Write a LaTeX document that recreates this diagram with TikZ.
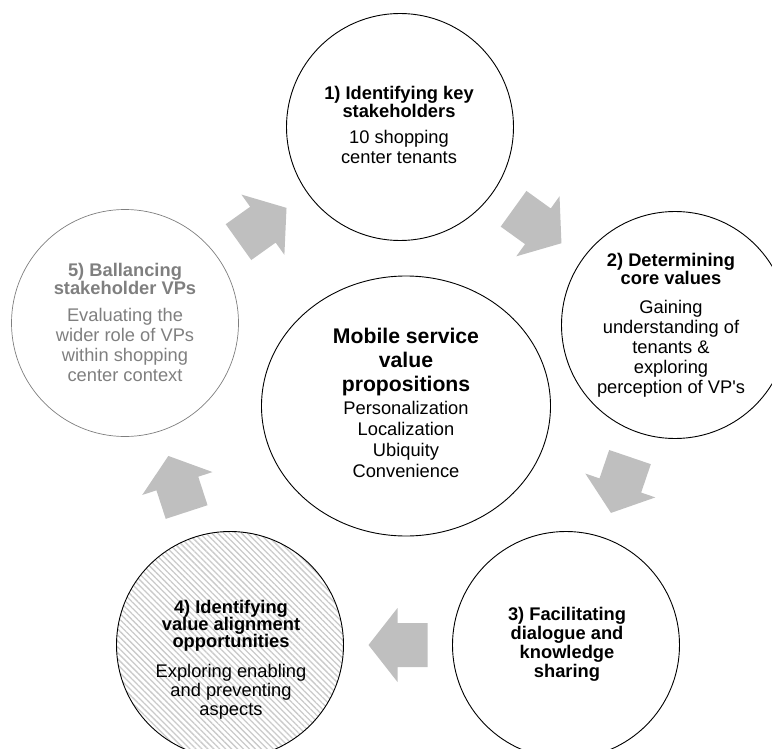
\documentclass[tikz,border=0pt]{standalone}
\usepackage{fontspec}
\setmainfont{Liberation Sans}[Ligatures=TeXOff]
\usetikzlibrary{calc,shapes.geometric,patterns.meta}
\definecolor{arrowgray}{HTML}{BFBFBF}
\definecolor{fadegray}{HTML}{7F7F7F}
\definecolor{hatchgray}{HTML}{CACACA}
\tikzset{
  stage/.style={circle, draw=black, line width=0.9pt, minimum size=227pt, inner sep=0pt},
  txt/.style={align=center, inner sep=0pt, font=\fontsize{18.3}{20}\selectfont},
  blockarrow/.pic={\fill[arrowgray] (-29.5,-22) -- (0.5,-22) -- (0.5,-37) -- (29.5,0) -- (0.5,37) -- (0.5,22) -- (-29.5,22) -- cycle;},
}
\newcommand\cyclearrow[2]{\path let \p1=($(#2)-(#1)$), \n1={atan2(\y1,\x1)} in ($(#1)!0.5!(#2)$) pic[rotate=\n1]{blockarrow};}
\begin{document}
\begin{tikzpicture}[x=1pt,y=-1pt]
\useasboundingbox (0,0) rectangle (772,749);
\clip (0,0) rectangle (772,749);
% stage circles
\node[stage] (c1) at (400,127) {};
\node[stage] (c2) at (675,325) {};
\node[stage] (c3) at (566,645) {};
\node[stage, pattern={Lines[angle=-45, distance=4.2pt, line width=1.3pt]}, pattern color=hatchgray] (c4) at (230,645) {};
\node[stage, draw=fadegray, line width=0.7pt] (c5) at (125,323) {};
\node[ellipse, draw=black, line width=0.9pt, minimum width=289pt, minimum height=260pt, inner sep=0pt] (hub) at (406,406) {};
% cycle arrows
\cyclearrow{c1}{c2}
\cyclearrow{c2}{c3}
\cyclearrow{c3}{c4}
\cyclearrow{c4}{c5}
\cyclearrow{c5}{c1}
% texts
\node[txt] (t1) at (399,125.3) {\textbf{1) Identifying key}\\[-2pt]\textbf{stakeholders}\\[6pt]10 shopping\\center tenants};
\node[txt] (t2) at (671,325.3) {\textbf{2) Determining}\\[-2pt]\textbf{core values}\\[9pt]Gaining\\understanding of\\tenants \&\\exploring\\perception of VP's};
\node[txt, font=\fontsize{18.3}{19.3}\selectfont] (t3) at (567,644.3) {\textbf{3) Facilitating}\\\textbf{dialogue and}\\\textbf{knowledge}\\\textbf{sharing}};
\node[txt, font=\fontsize{18.3}{19}\selectfont] (t4) at (231,659.3) {\textbf{4) Identifying}\\[-2pt]\textbf{value alignment}\\[-2pt]\textbf{opportunities}\\[11pt]Exploring enabling\\and preventing\\aspects};
\node[txt, text=fadegray] (t5) at (125,322.3) {\textbf{5) Ballancing}\\[-2pt]\textbf{stakeholder VPs}\\[7pt]Evaluating the\\wider role of VPs\\within shopping\\center context};
\node[txt, font=\fontsize{18.3}{21}\selectfont] (th) at (406,403.3) {{\fontsize{21.2}{24}\selectfont\bfseries Mobile service}\\[3pt]{\fontsize{21.2}{24}\selectfont\bfseries value}\\[3pt]{\fontsize{21.2}{24}\selectfont\bfseries propositions}\\[2pt]Personalization\\Localization\\Ubiquity\\Convenience};
\end{tikzpicture}
\end{document}
